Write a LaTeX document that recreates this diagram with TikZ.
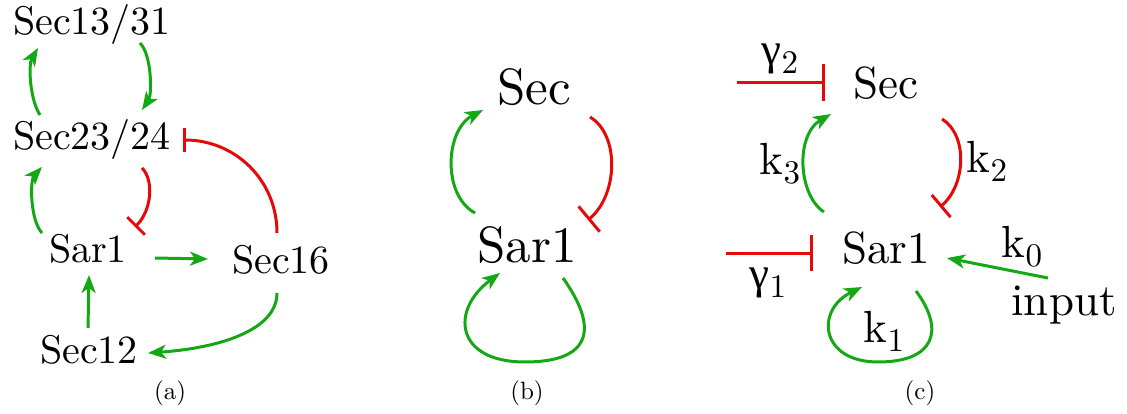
\documentclass[tikz,border=0pt]{standalone}
\usepackage{fontspec}
\setmainfont{lmroman10-regular.otf}
\newfontfamily\grk{Liberation Serif}
\usetikzlibrary{arrows.meta}
\definecolor{actgreen}{RGB}{20,168,20}
\definecolor{inhred}{RGB}{228,10,10}
\newcommand{\mysub}[1]{\raisebox{-9pt}{\fontsize{33}{36}\selectfont #1}}
\tikzset{
  act/.style={draw=actgreen, line width=3pt, -{Stealth[length=18pt,width=14pt,inset=5pt]}},
  inh/.style={draw=inhred, line width=3pt, -{Bar[width=#1]}},
  inh/.default=26pt,
  txta/.style={inner sep=0pt, anchor=base, font=\fontsize{40}{48}\selectfont},
  txtb/.style={inner sep=0pt, anchor=base, font=\fontsize{51}{60}\selectfont},
  txtc/.style={inner sep=0pt, anchor=base, font=\fontsize{45}{54}\selectfont},
  lbl/.style={inner sep=0pt, anchor=base, font=\fontsize{45}{54}\selectfont},
  glbl/.style={inner sep=0pt, anchor=base, font=\fontsize{45}{54}\selectfont},
  capt/.style={inner sep=0pt, anchor=base, font=\fontsize{25}{30}\selectfont},
}
\begin{document}
\begin{tikzpicture}[x=1pt,y=-1pt]
\useasboundingbox (0,0) rectangle (1127,414);
% ---------- (a)
\node[txta] (s1331) at (92,35) {Sec13/31};
\node[txta] (s2324) at (92,150) {Sec23/24};
\node[txta] (sara) at (88,262) {Sar1};
\node[txta] (s16) at (281,273) {Sec16};
\node[txta] (s12) at (89,363) {Sec12};
\node[capt] (capa) at (170,399) {(a)};
\draw[act] ([shift={(-52,-35)}]s2324.base) .. controls (30,100) and (28,65) .. ([shift={(-54,13)}]s1331.base);
\draw[act] ([shift={(48,8)}]s1331.base) .. controls (152,55) and (152,95) .. ([shift={(50,-40)}]s2324.base);
\draw[act] ([shift={(-46,-29)}]sara.base) .. controls (30,220) and (30,180) .. ([shift={(-50,17)}]s2324.base);
\draw[inh=25pt] ([shift={(50,18)}]s2324.base) .. controls (154,180) and (152,210) .. ([shift={(47,-35)}]sara.base);
\draw[act] ([shift={(67,-4)}]sara.base) -- ([shift={(-73,-14)}]s16.base);
\draw[act] ([shift={(-1,-35)}]s12.base) -- ([shift={(1,13)}]sara.base);
\draw[inh=24pt] ([shift={(-4,-40)}]s16.base) .. controls (277,180) and (235,140) .. ([shift={(91,-10)}]s2324.base);
\draw[act] ([shift={(-4,20)}]s16.base) .. controls (277,330) and (220,348) .. ([shift={(59,-10)}]s12.base);
% ---------- (b)
\node[txtb] (secb) at (534,105) {Sec};
\node[txtb] (sarb) at (527,262) {Sar1};
\node[capt] (capb) at (527,399) {(b)};
\draw[act] ([shift={(-52,-49)}]sarb.base) .. controls (442,195) and (445,130) .. ([shift={(-51,5)}]secb.base);
\draw[inh=33pt] ([shift={(56,12)}]secb.base) .. controls (620,135) and (618,195) .. ([shift={(61,-42)}]sarb.base);
\draw[act] ([shift={(36,16)}]sarb.base) .. controls (600,330) and (590,362) .. (525,362) .. controls (455,362) and (450,310) .. ([shift={(-27,11)}]sarb.base);
% ---------- (c)
\node[txtc] (secc) at (886,99) {Sec};
\node[txtc] (sarc) at (886,263) {Sar1};
\node[txtc] (inp) at (1064,315) {input};
\node[capt] (capc) at (920,399) {(c)};
\coordinate (g2) at (737,83);
\coordinate (g1) at (726,253);
\draw[inh=37pt] (g2) -- ([shift={(-61,-16)}]secc.base);
\draw[inh=36pt] (g1) -- ([shift={(-73,-10)}]sarc.base);
\node[glbl] (lg2) at (780,65) {{\grk γ}\mysub{2}};
\node[glbl] (lg1) at (768,288) {{\grk γ}\mysub{1}};
\draw[act] ([shift={(-62,-51)}]sarc.base) .. controls (798,195) and (795,135) .. ([shift={(-55,15)}]secc.base);
\draw[inh=29pt] ([shift={(56,20)}]secc.base) .. controls (968,135) and (966,185) .. ([shift={(54,-56)}]sarc.base);
\draw[act] ([shift={(-16,-37)}]inp.base) -- ([shift={(61,-5)}]sarc.base);
\draw[act] ([shift={(30,28)}]sarc.base) .. controls (945,330) and (935,362) .. (878,362) .. controls (820,362) and (815,310) .. ([shift={(-24,24)}]sarc.base);
\node[lbl] (k3) at (780,175) {k\mysub{3}};
\node[lbl] (k2) at (987,173) {k\mysub{2}};
\node[lbl] (k0) at (1022,258) {k\mysub{0}};
\node[lbl] (k1) at (884,342) {k\mysub{1}};
\end{tikzpicture}
\end{document}
